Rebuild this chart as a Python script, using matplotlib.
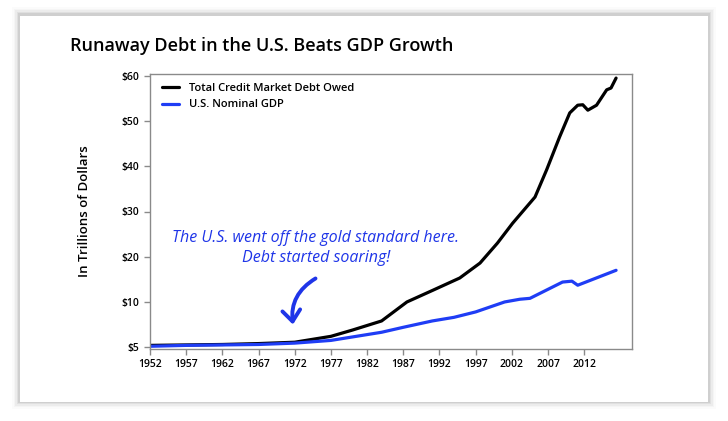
import matplotlib.pyplot as plt
from matplotlib.patches import Rectangle

# values (trillions of dollars)
debt_years = [1952, 1957, 1962, 1967, 1972, 1977, 1980, 1984, 1987.5, 1991.1,
              1994.8, 1997.6, 2000.0, 2002.1, 2005.2, 2006.8, 2008.6, 2010.0,
              2011.1, 2011.8, 2012.5, 2013.7, 2015.1, 2015.7, 2016.4]
debt_vals = [0.4, 0.5, 0.6, 0.8, 1.1, 2.4, 3.8, 5.8, 10.0, 12.6,
             15.3, 18.6, 23.0, 27.4, 33.2, 39.2, 46.5, 51.8,
             53.5, 53.6, 52.4, 53.5, 56.9, 57.3, 59.5]

gdp_years = [1952, 1957, 1962, 1967, 1972, 1977, 1984, 1987, 1991, 1994,
             1997, 2001, 2003.1, 2004.5, 2009.0, 2010.3, 2011.1, 2016.4]
gdp_vals = [0.2, 0.4, 0.5, 0.6, 0.9, 1.5, 3.3, 4.4, 5.8, 6.6,
            7.8, 10.0, 10.6, 10.8, 14.4, 14.6, 13.7, 17.0]

x_ticks = list(range(1952, 2013, 5))
y_ticks = [0, 10, 20, 30, 40, 50, 60]
y_labels = ['$5', '$10', '$20', '$30', '$40', '$50', '$60']

plt.rcParams['font.family'] = ['Open Sans', 'DejaVu Sans']

fig = plt.figure(figsize=(7.28, 4.21), dpi=100)
fig.patch.set_facecolor('white')

# card with a soft shadow
for i, a in enumerate([0.015, 0.025, 0.035, 0.05, 0.07]):
    d = (5 - i) * 1.6
    fig.patches.append(Rectangle((20 - d, 19 - d + 1), 688 + 2 * d, 386 + 2 * d,
                                 transform=None, facecolor='black', alpha=a,
                                 edgecolor='none', zorder=-5))
fig.patches.append(Rectangle((20, 19), 688, 386, transform=None,
                             facecolor='white', edgecolor='none', zorder=-1))

ax = fig.add_axes([150 / 728, 1 - 349 / 421, 482 / 728, 275 / 421])
ax.set_zorder(2)
ax.set_facecolor('none')
ax.plot(debt_years, debt_vals, color='black', lw=2.3, label='Total Credit Market Debt Owed',
        solid_capstyle='round', solid_joinstyle='round')
ax.plot(gdp_years, gdp_vals, color='#1f3df5', lw=2.3, label='U.S. Nominal GDP',
        solid_capstyle='round', solid_joinstyle='round')

ax.set_xlim(1952, 2018.6)
ax.set_ylim(-0.4, 60.4)
ax.set_xticks(x_ticks)
ax.set_yticks(y_ticks)
ax.set_yticklabels(y_labels)
for lab in ax.get_xticklabels() + ax.get_yticklabels():
    lab.set_fontsize(7.5)
    lab.set_fontweight('semibold')
for s in ax.spines.values():
    s.set_color('#8a8a8a')
    s.set_linewidth(1)
ax.tick_params(colors='#8a8a8a', labelcolor='black', length=4, width=1)
ax.set_ylabel('In Trillions of Dollars', fontsize=9.5, fontweight='semibold', labelpad=22)

leg = ax.legend(loc='upper left', bbox_to_anchor=(0.0, 1.012), frameon=False, fontsize=8,
                handlelength=1.5, handletextpad=0.9, borderaxespad=0.7, labelspacing=0.5)
for t in leg.get_texts():
    t.set_fontweight('semibold')

# annotation
ax.text(1974.9, 21.9, 'The U.S. went off the gold standard here.\nDebt started soaring!',
        color='#1f35e8', fontsize=11.5, ha='center', va='center', linespacing=1.3,
        fontstyle='italic')
ax.annotate('', xy=(1971.8, 4.4), xytext=(1975.2, 15.5),
            arrowprops=dict(arrowstyle='->,head_length=0.5,head_width=0.4',
                            color='#1f35e8', lw=2.8,
                            connectionstyle='arc3,rad=0.35', mutation_scale=16))

fig.text(70 / 728, 1 - 46 / 421, 'Runaway Debt in the U.S. Beats GDP Growth',
         fontsize=13, fontweight='semibold', va='center', ha='left')

fig.savefig('out.png', dpi=100)
